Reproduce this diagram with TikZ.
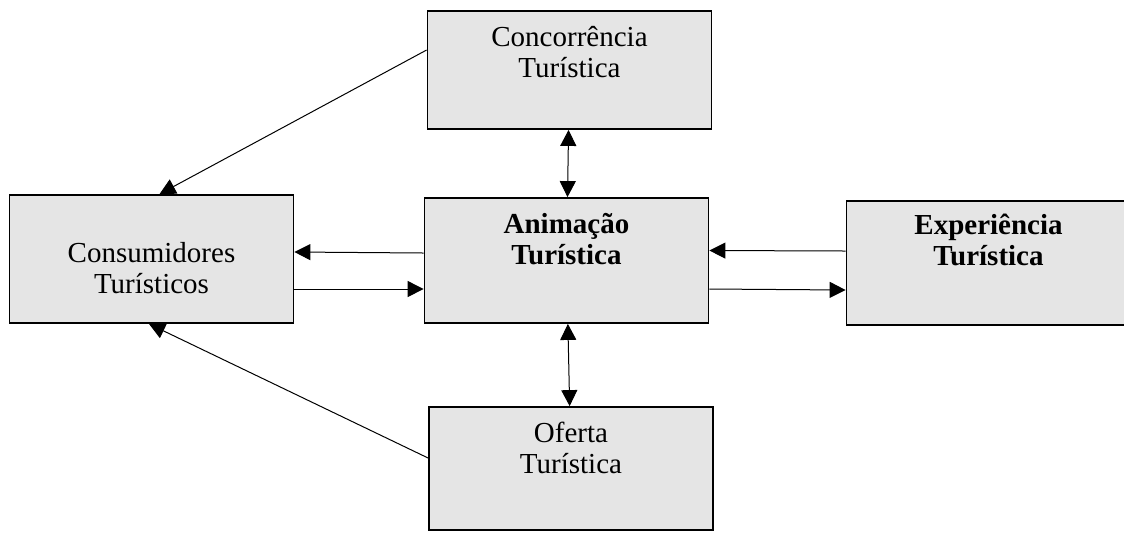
\documentclass[tikz,border=0pt]{standalone}
\usepackage{fontspec}
\setmainfont{Liberation Serif}
\usetikzlibrary{arrows.meta}
\tikzstyle{bt} = [rectangle, draw, line width=0.9pt, fill=black!10,
    text width=142pt, text centered, inner sep=0pt, text height=17.5pt,
    font=\fontsize{14.5}{15.5}\selectfont]
\tikzstyle{btb} = [bt, font=\fontsize{14.5}{15.5}\selectfont\bfseries]
\tikzstyle{ln} = [line width=0.5pt, >={Triangle[length=8pt,width=8pt]}]

\begin{document}
\begin{tikzpicture}[x=0.5pt, y=-0.5pt]
  \useasboundingbox (0,0) rectangle (1124,532);

  \node[btb, text depth=45pt] (anim) at (566.5,260.5) {Animação\\Turística};
  \node[bt, text depth=41.5pt] (conc) [node distance=95.25pt, above of=anim, xshift=1.5pt] {Concorrência\\Turística};
  \node[bt, text height=33.5pt, text depth=30.5pt] (cons) [node distance=207.5pt, left of=anim, yshift=0.75pt] {Consumidores\\Turísticos};
  \node[btb, text height=16.5pt, text depth=45.5pt] (exp) [node distance=211pt, right of=anim, yshift=-1.25pt] {Experiência\\Turística};
  \node[bt, text depth=44pt] (ofer) [node distance=104pt, below of=anim, xshift=2.25pt] {Oferta\\Turística};

  \path[ln,<->] (conc) edge (anim);
  \path[ln,<->] (anim) edge (ofer);
  \path[ln,->] ([yshift=10pt]conc.west) edge ([xshift=4pt]cons.north);
  \path[ln,->] ([yshift=3.75pt]anim.west) edge ([yshift=3.5pt]cons.east);
  \path[ln,->] ([yshift=-15pt]cons.east) edge ([yshift=-14.25pt]anim.west);
  \path[ln,->] ([yshift=6pt]exp.west) edge ([yshift=5pt]anim.east);
  \path[ln,->] ([yshift=-14.25pt]anim.east) edge ([yshift=-13.5pt]exp.west);
  \path[ln,->] ([yshift=5.25pt]ofer.west) edge ([xshift=-1.25pt]cons.south);
\end{tikzpicture}
\end{document}
